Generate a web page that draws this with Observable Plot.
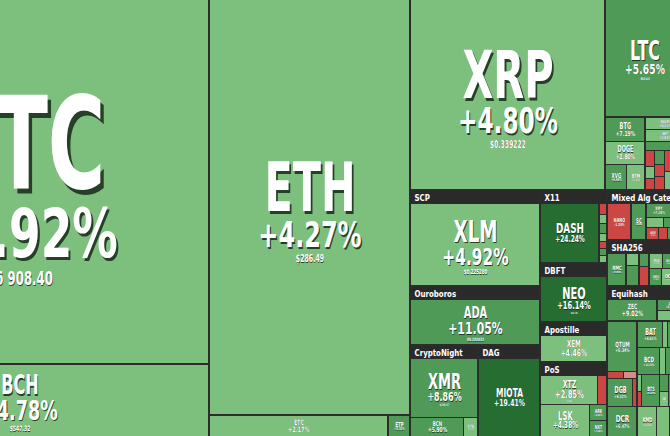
<!DOCTYPE html>
<html><head><meta charset="utf-8">
<script src="https://cdn.jsdelivr.net/npm/d3@7"></script>
<script src="https://cdn.jsdelivr.net/npm/@observablehq/plot@0.6"></script>
<style>
html,body{margin:0;padding:0;background:#2a2d2b;overflow:hidden;}
#chart svg{display:block;overflow:hidden;}
g[aria-description="name"] text, g[aria-description="change"] text, g[aria-description="price"] text {text-shadow: 0.045em 0.045em 0 rgba(22,40,26,0.85);}
</style></head><body><div id="chart"></div>
<script>
// ---- data ----
const coins = ["BTC","BCH","ETH","ETC","ETP","XRP","LTC","BTG","DOGE","XVG","BTM","WAVES","BNT","GAS","RDD","NEBL","NXS","GBYTE","POLY","DGD","MCO","PPT","WAN","LRC",
  "XLM","ADA","XMR","BCN","ETN","MIOTA","DASH","PIVX","XZC","SYS","VTC","NAV","MONA","GRS","NEO","XEM","XTZ","STRAT","LSK","ARK","NXT",
  "NANO","SC","XMY","EMC","PPC","FTC","XP","AUR","DGC","VIA","EMC2",
  "NMC","BTCD","CURE","UNO","SLR","MUE","BSD","XDN","DMD","OK","BLK",
  "ZEC","ZEN","ZCL",
  "QTUM","WTC","ICX","DGB","GNT","DCR","BAT","ZRX","OMG","BCD","MAID","REP","SNT","ELF","BTS","STEEM","AE","MKR","KMD","ARDR","HSR"];
const caps = [135400,27300,82000,3870,480,36300,9200,960,920,550,450,456,456,380,150,120,100,130,120,120,200,170,150,222,
  12220,7540,4600,1200,320,5580,4250,110,90,90,80,70,70,64,3886,2613,2030,320,1936,336,336,
  1200,700,500,260,250,150,130,200,150,150,110,
  855,200,340,180,270,300,250,200,300,250,275,
  1715,500,445,
  1450,110,90,700,110,875,676,130,416,621,150,498,75,70,580,150,130,488,600,400,410];
const changes = [3.92,4.78,4.27,2.17,5.31,4.80,5.65,7.19,2.80,6.93,4.57,4.21,3.84,9.52,-2.14,3.05,-4.02,6.04,-1.52,-3.47,-2.71,4.12,5.53,-1.83,
  4.92,11.05,8.86,5.90,3.21,19.41,24.24,-1.52,3.10,8.22,2.05,-0.84,7.11,4.02,16.14,4.46,2.85,-3.10,4.38,6.02,5.48,
  -1.28,6.05,7.20,3.12,4.04,8.51,2.50,-2.10,-1.20,6.20,-3.00,
  5.92,4.10,7.04,6.60,-2.20,3.40,6.10,2.90,7.30,3.70,5.60,
  9.02,6.51,3.02,
  6.34,-2.52,-0.31,6.32,-1.41,6.47,6.61,4.02,7.05,10.02,3.01,6.03,3.10,-2.05,6.24,5.31,3.22,6.05,4.11,3.03,7.02];
const prices = ["$6 908.40","$547.32","$286.49","$11.92","$1.62","$0.339222","$60.64","$17.48","$0.005611","$0.014921","$0.2671","$2.04","$1.52","$6.18","$0.0039","$4.11","$0.81","$87.60","$0.27","$22.10","$4.60","$2.95","$1.33","$0.09",
  "$0.225280","$0.103432","$109.97","$0.002203","$0.0142","$0.5862","$190.41","$1.12","$11.40","$0.09","$0.81","$0.24","$1.10","$0.52","$19.78","$0.1057","$1.45","$1.62","$3.92","$0.68","$0.06",
  "$1.73","$0.0072","$0.0021","$0.29","$1.02","$0.06","$0.0001","$0.12","$0.003","$0.61","$0.004",
  "$1.16","$0.28","$0.05","$88.20","$0.09","$0.12","$0.03","$0.0004","$1.62","$0.03","$0.08",
  "$143.52","$16.80","$0.97",
  "$5.63","$3.40","$1.21","$0.0232","$0.19","$41.20","$0.2302","$0.71","$3.52","$1.93","$0.19","$16.80","$0.03","$0.31","$0.1087","$1.12","$1.01","$441.0","$1.12","$0.11","$1.62"];
const groupNames = ["SCP","Ouroboros","CryptoNight","DAG","X11","DBFT","Apostille","PoS","Mixed Alg Categories","SHA256","Equihash"];
const changeBreaks = [-0.5, 0, 5, 15];
const changeColors = ["#cc4644","#d98a86","#7dbf7d","#4f9a57","#266d32"];

// nesting of the map (arrays = blocks, {g, c} = labelled groups)
const layout = [
  ["BTC","BCH"],
  ["ETH", ["ETC","ETP"]],
  [
    ["XRP", ["LTC", [["BTG","DOGE",["XVG","BTM"]], ["WAVES","BNT","GAS",[["RDD","NEBL","NXS"],["GBYTE","POLY","DGD"],["MCO","PPT"],["WAN","LRC"]]]]]],
    [
      [{g:groupNames[0], c:["XLM"]}, {g:groupNames[1], c:["ADA"]}, [{g:groupNames[2], c:["XMR",["BCN","ETN"]]}, {g:groupNames[3], c:["MIOTA"]}]],
      [{g:groupNames[4], c:["DASH",["PIVX","XZC","SYS","VTC","NAV","MONA","GRS"]]}, {g:groupNames[5], c:["NEO"]}, {g:groupNames[6], c:["XEM"]}, {g:groupNames[7], c:[[["XTZ","STRAT"],["LSK",["ARK","NXT"]]]]}],
      [{g:groupNames[8], c:["NANO","SC",[["XMY","EMC"],["PPC","FTC","XP"],["AUR","DGC","VIA","EMC2"]]]},
       {g:groupNames[9], c:["NMC",["BTCD","CURE"],["UNO","SLR"],[["MUE","BSD","XDN"],["DMD","OK","BLK"]]]},
       {g:groupNames[10], c:["ZEC",["ZEN","ZCL"]]},
       [["QTUM",["WTC","ICX"],["DGB","GNT"],"DCR"], [["BAT","ZRX","OMG"],["BCD","MAID","REP"],[["SNT","ELF"],"BTS",["STEEM","AE"],"MKR"],["KMD","ARDR","HSR"]]]
      ]
    ]
  ]
];

// ---- layout ----
const H = 436, W = 852, cropRight = 13, VW = 670;
const idx = new Map(coins.map((c, i) => [c, i]));
function build(n) {
  if (typeof n === "string") { const i = idx.get(n); return {name: n, value: caps[i], change: changes[i], price: prices[i]}; }
  if (Array.isArray(n)) return {children: n.map(build)};
  return {group: n.g, children: n.c.map(build)};
}
const root = d3.hierarchy(build(layout)).sum(d => d.value || 0);
d3.treemap().size([W, H]).tile(d3.treemapSliceDice)
  .paddingInner(d => d.depth <= 4 ? 2 : 1)
  .paddingTop(d => d.data.group ? 13 : 0)
  .round(true)(root);

const tiles = root.leaves().map(d => ({name: d.data.name, change: d.data.change, x1: d.x0, x2: d.x1, y1: d.y0, y2: d.y1}));
const groups = root.descendants().filter(d => d.data.group).map(d => ({name: d.data.group, x1: d.x0, x2: d.x1, y1: d.y0, y2: d.y0 + 12, tx: d.x0 + 3, ty: d.y0 + 6.5}));
const fmt = v => (v >= 0 ? "+" : "") + v.toFixed(2) + "%";
const CAP = 0.73; // cap height of the font, in em
const labels = root.leaves().map(d => {
  const w = d.x1 - d.x0, h = d.y1 - d.y0;
  const name = d.data.name, change = fmt(d.data.change);
  const C = Math.min(0.27 * h, 0.47 * w / (0.63 * name.length));      // name cap height
  const K = Math.min(0.27 * h, 0.52 * w / (0.66 * change.length));    // change cap height
  const P = 0.28 * K;                                                 // price cap height
  const g1 = 0.3 * K + 0.05 * C, g2 = 0.3 * K;
  const total = C + g1 + K + g2 + P;
  const top = (d.y0 + d.y1) / 2 + 0.04 * total - total / 2;
  const cN = top + C / 2, cK = top + C + g1 + K / 2, cP = top + C + g1 + K + g2 + P / 2;
  return {name, change, price: d.data.price, C, K, P, cx: (d.x0 + d.x1) / 2,
    fsn: C / CAP, yn: cN + 0.062 * C,
    fsc: K / CAP, yc: cK + 0.062 * K,
    fsp: P / CAP, yp: cP + 0.062 * P};
}).filter(d => d.C >= 2.5);
const priceLabels = labels.filter(d => d.fsp >= 2.6);

const font = "'DejaVu Sans',sans-serif";
function label(data, key, fs, y, desc) {
  return Plot.text(data, {x: "cx", y: d => d[y], text: key, fontSize: d => d[fs], fill: "white", fontFamily: font, fontWeight: "bold", textAnchor: "middle", lineAnchor: "middle", clip: true, ariaDescription: desc});
}

const chart = Plot.plot({
  width: VW, height: H, margin: 0,
  style: {background: "#2a2d2b"},
  x: {domain: [W - cropRight - VW, W - cropRight], range: [0, VW], axis: null},
  y: {domain: [0, H], range: [0, H], axis: null},
  color: {type: "threshold", domain: changeBreaks, range: changeColors},
  marks: [
    Plot.rect(tiles, {x1: "x1", x2: "x2", y1: "y1", y2: "y2", fill: "change", clip: true}),
    Plot.rect(groups, {x1: "x1", x2: "x2", y1: "y1", y2: "y2", fill: "#2a2a2a", clip: true}),
    Plot.text(groups, {x: "tx", y: "ty", text: "name", fill: "white", fontSize: 9.5, fontWeight: "bold", fontFamily: font, textAnchor: "start", lineAnchor: "middle", clip: true, ariaDescription: "group"}),
    label(labels, "name", "fsn", "yn", "name"),
    label(labels, "change", "fsc", "yc", "change"),
    label(priceLabels, "price", "fsp", "yp", "price")
  ]
});
document.getElementById("chart").appendChild(chart);
// condensed lettering, as in the reference
const squeeze = {name: 0.61, change: 0.67, price: 0.62, group: 0.74};
for (const [k, f] of Object.entries(squeeze)) {
  chart.querySelectorAll(`g[aria-description="${k}"] text`).forEach(t => {
    const L = t.getComputedTextLength();
    if (L > 0) { t.setAttribute("textLength", L * f); t.setAttribute("lengthAdjust", "spacingAndGlyphs"); }
  });
}
</script></body></html>
